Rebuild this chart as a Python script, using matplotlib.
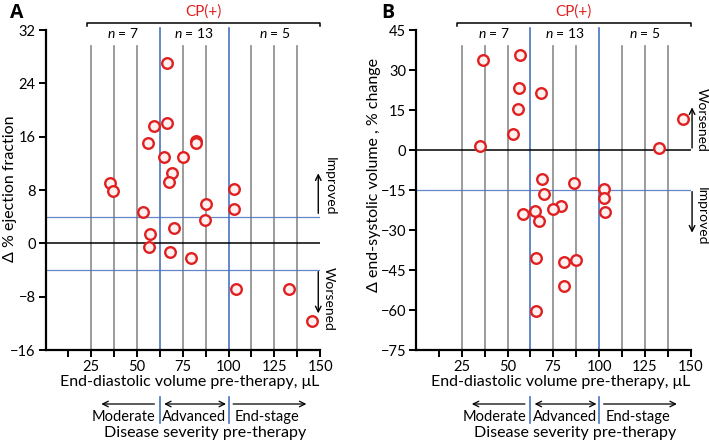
import matplotlib
matplotlib.use("Agg")
import matplotlib.pyplot as plt
import matplotlib.transforms as mtransforms

plt.rcParams['font.family'] = ['Lato', 'DejaVu Sans']
plt.rcParams['mathtext.fontset'] = 'custom'
plt.rcParams['mathtext.it'] = 'Lato:italic'
plt.rcParams['mathtext.rm'] = 'Lato'

# ---------------- data ----------------
edv_a = [66.6, 59.5, 66.6, 55.8, 82.2, 82.2, 64.9, 75.0, 69.0, 67.5, 35.4, 37.0, 103.2,
         87.7, 103.2, 53.3, 87.0, 70.2, 57.3, 56.4, 68.2, 79.5, 103.9, 132.9, 145.8]
def_a = [27.1, 17.6, 18.0, 15.0, 15.4, 15.0, 13.0, 13.0, 10.5, 9.2, 9.0, 7.9, 8.1,
         5.9, 5.1, 4.7, 3.5, 2.3, 1.4, -0.5, -1.25, -2.15, -6.9, -6.9, -11.7]

edv_b = [36.7, 56.9, 56.2, 68.1, 55.5, 145.6, 52.9, 35.1, 132.5, 68.6, 86.4, 102.8, 102.8,
         70.0, 103.5, 79.3, 74.8, 64.8, 58.4, 67.0, 65.5, 80.9, 87.3, 80.9, 65.5]
desv_b = [33.7, 35.6, 23.1, 21.3, 15.3, 11.6, 5.9, 1.6, 0.75, -10.9, -12.2, -14.6, -17.9,
          -16.4, -23.4, -21.1, -22.1, -22.9, -23.9, -26.6, -40.6, -42.1, -41.25, -50.9, -60.3]

x_ticks = [25, 50, 75, 100, 125, 150]
x_minor = [12.5, 37.5, 62.5, 87.5, 112.5, 137.5]
gray_lines = [25, 37.5, 50, 75, 87.5, 112.5, 125, 137.5]
stage_bounds = [62.5, 100]
group_n = [7, 13, 5]
stage_names = ["Moderate", "Advanced", "End-stage"]

yticks_a = [-16, -8, 0, 8, 16, 24, 32]
yticks_b = [-75, -60, -45, -30, -15, 0, 15, 30, 45]
thresh_a = [4, -4]
thresh_b = [-15]

# ---------------- figure ----------------
W, H = 709, 443
fig = plt.figure(figsize=(W / 100, H / 100), dpi=100)

RED = "#e02020"
FILL = "#fff0f0"
BLUE = "#4a72c0"
GRAY = "#8a8a8a"
FS = 10.5


def fx(px):
    return px / W


def fy(py):
    return 1 - py / H


def panel(left_px, x, y, ylim, yticks, thresh, ylabel, letter,
          up_label, up_arrow, up_text_y, dn_label, dn_arrow, dn_text_y,
          arrow_x, text_x, ylabel_pos):
    ax = fig.add_axes([fx(left_px), fy(350), 274.6 / W, 320 / H])
    ax.set_xlim(0, 150)
    ax.set_ylim(*ylim)
    for s in ['top', 'right']:
        ax.spines[s].set_visible(False)
    for s in ['left', 'bottom']:
        ax.spines[s].set_linewidth(1.6)
        ax.spines[s].set_color('black')
    ax.set_xticks(x_ticks)
    ax.set_xticks(x_minor, minor=True)
    ax.set_yticks(yticks)
    ax.tick_params(axis='both', which='both', direction='out', length=5, width=1.4,
                   labelsize=FS, color='black', pad=2)

    ytop_line = ylim[0] + 0.95 * (ylim[1] - ylim[0])
    for gx in gray_lines:
        ax.plot([gx, gx], [ylim[0], ytop_line], color=GRAY, lw=1.2, zorder=1)
    ytop_blue = ylim[0] + 1.005 * (ylim[1] - ylim[0])
    for bx in stage_bounds:
        ax.plot([bx, bx], [ylim[0], ytop_blue], color=BLUE, lw=1.2, zorder=1, clip_on=False)
    ax.plot([0, 150], [0, 0], color='black', lw=1.1, zorder=1)
    for t in thresh:
        ax.plot([0, 150], [t, t], color=BLUE, lw=0.9, zorder=1, alpha=0.85)

    ax.scatter(x, y, s=58, facecolor=FILL, edgecolor=RED, linewidth=1.7, zorder=3)

    # top bracket
    span = ylim[1] - ylim[0]
    yb = ylim[0] + 1.023 * span
    tick = 0.012 * span
    ax.plot([22.5, 22.5, 150, 150], [yb - tick, yb, yb, yb - tick], color='black',
            lw=1.1, clip_on=False)
    ax.text(86.25, ylim[0] + 1.058 * span, "CP(+)", color=RED, ha='center', va='center',
            fontsize=FS + 0.5)
    bounds = [22.5] + stage_bounds + [150]
    for i, n in enumerate(group_n):
        ax.text((bounds[i] + bounds[i + 1]) / 2, ylim[0] + 0.99 * span, f"$n$ = {n}",
                ha='center', va='center', fontsize=FS - 0.5)

    # right annotations
    ax.annotate("", xy=(arrow_x, up_arrow[1]), xytext=(arrow_x, up_arrow[0]),
                arrowprops=dict(arrowstyle='->', color='black', lw=1.0,
                                shrinkA=0, shrinkB=0), annotation_clip=False)
    ax.text(text_x, up_text_y, up_label, rotation=-90, ha='center', va='center',
            fontsize=FS - 0.5, clip_on=False)
    ax.annotate("", xy=(arrow_x, dn_arrow[1]), xytext=(arrow_x, dn_arrow[0]),
                arrowprops=dict(arrowstyle='->', color='black', lw=1.0,
                                shrinkA=0, shrinkB=0), annotation_clip=False)
    ax.text(text_x, dn_text_y, dn_label, rotation=-90, ha='center', va='center',
            fontsize=FS - 0.5, clip_on=False)

    # ylabel
    fig.text(fx(ylabel_pos[0]), fy(ylabel_pos[1]), ylabel, rotation=90, ha='center',
             va='center', fontsize=FS + 1)
    fig.text(fx(left_px - 35), fy(13), letter, fontsize=14, fontweight='bold',
             ha='left', va='center', family=['Open Sans', 'DejaVu Sans'])

    # bottom annotations
    tr = mtransforms.blended_transform_factory(ax.transData, fig.transFigure)
    fig.text(fx(left_px + 274.6 / 2 + 7), fy(382), "End-diastolic volume pre-therapy, \u03bcL",
             ha='center', va='center', fontsize=FS + 1)
    ya = fy(404)
    ax.annotate("", xy=(30.5, ya), xytext=(59.5, ya), xycoords=tr, textcoords=tr,
                arrowprops=dict(arrowstyle='->', color='black', lw=0.9, shrinkA=0, shrinkB=0))
    ax.annotate("", xy=(64.8, ya), xytext=(98.6, ya), xycoords=tr, textcoords=tr,
                arrowprops=dict(arrowstyle='<->', color='black', lw=0.9, shrinkA=0, shrinkB=0))
    ax.annotate("", xy=(142.5, ya), xytext=(102.5, ya), xycoords=tr, textcoords=tr,
                arrowprops=dict(arrowstyle='->', color='black', lw=0.9, shrinkA=0, shrinkB=0))
    for bx in stage_bounds:
        ax.plot([bx, bx], [fy(397), fy(423)], transform=tr, color=BLUE, lw=1.2,
                clip_on=False)
    for cx, name in zip([42.7, 81.2, 121.0], stage_names):
        ax.text(cx, fy(417), name, transform=tr, ha='center', va='center', fontsize=FS)
    ax.text(87, fy(433), "Disease severity pre-therapy", transform=tr, ha='center',
            va='center', fontsize=FS + 1)
    return ax


panel(45.5, edv_a, def_a, (-16, 32), yticks_a, thresh_a,
      "\u0394 % ejection fraction", "A",
      "Improved", (4.5, 10.5), 8.6, "Worsened", (-4.25, -10.5), -8.4,
      149, 155, (10, 189))

panel(416, edv_b, desv_b, (-75, 45), yticks_b, thresh_b,
      "\u0394 end-systolic volume , % change", "B",
      "Worsened", (0.75, 16), 11.25, "Improved", (-15.6, -31), -24.7,
      150.8, 156, (374, 175))

fig.savefig("out.png", dpi=100)
